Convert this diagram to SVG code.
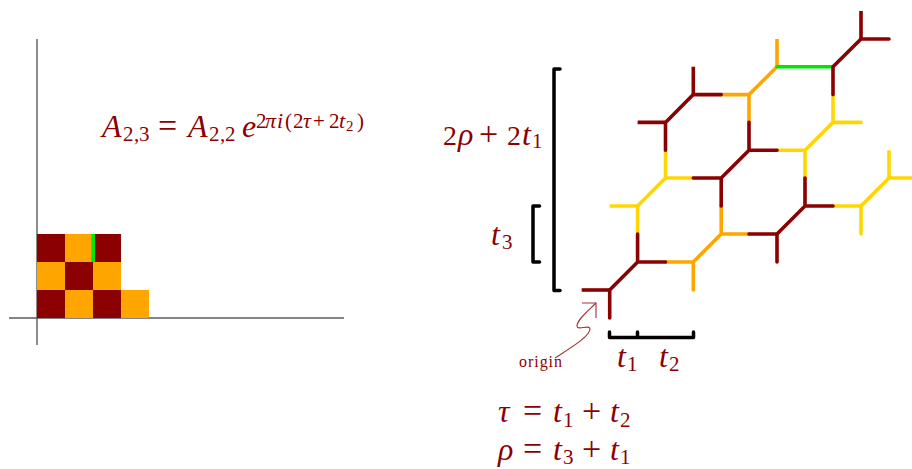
<svg xmlns="http://www.w3.org/2000/svg" width="912" height="469" viewBox="0 0 912 469">
<style>
.m{stroke:#8b0000}.o{stroke:#ffa500}.y{stroke:#ffd700}.g{stroke:#00e600}
#lattice path{fill:none;stroke-width:3.6;stroke-linecap:round;stroke-linejoin:round}
#lattice path.f{stroke-linecap:butt}
.br{fill:none;stroke:#000;stroke-width:3.5;stroke-linecap:round;stroke-linejoin:round}
.ax{stroke:#5c5c5c;stroke-width:1.4;fill:none}
text{font-family:"Liberation Serif","DejaVu Serif",serif;fill:#8b0000}
.b{font-size:32px;font-style:italic}
.n{font-size:34px}
.d{font-size:28px}
.s{font-size:21px}
.si{font-size:22px;font-style:italic}
</style>
<rect width="912" height="469" fill="#fff"/>
<g id="axes">
<path class="ax" d="M37 39V345M9 318H344"/>
</g>
<g id="grid">
<g fill="#8b0000">
<rect x="37" y="234" width="28" height="28"/><rect x="93" y="234" width="28" height="28"/>
<rect x="65" y="262" width="28" height="28"/>
<rect x="37" y="290" width="28" height="28"/><rect x="93" y="290" width="28" height="28"/>
</g>
<g fill="#ffa500">
<rect x="65" y="234" width="28" height="28"/>
<rect x="37" y="262" width="28" height="28"/><rect x="93" y="262" width="28" height="28"/>
<rect x="65" y="290" width="28" height="28"/><rect x="121" y="290" width="28" height="28"/>
</g>
<rect x="91.4" y="234" width="3.6" height="28" fill="#00e600"/>
</g>
<g id="lattice">
<path class="y f" d="M637.6 234V206M637.6 206H609.7M665.5 178V150.3M889 178V150.3"/>
<path class="y" d="M637.6 206L665.5 178M665.5 178H693.3"/>
<path class="y" d="M777 150.3H805M805 178V150.3L833 122.4H861M833 122.4V94.6"/>
<path class="y" d="M833 206H861M861 206V234M861 206L889 178H917"/>
<path class="o" d="M665.5 262H693.3M693.3 262V290M693.3 262L721.2 234H749M721.2 234V206"/>
<path class="o" d="M749 122.4V94.6M749 94.6H721.2M749 94.6L777 66.8"/>
<path class="o f" d="M777 66.8V39"/>
<path class="g" d="M777 66.8H833"/>
<path class="m f" d="M581.7 290H609.7"/>
<path class="m" d="M609.7 290V318M609.7 290L637.6 262M637.6 262V234M637.6 262H665.5"/>
<path class="m" d="M749 234H777M777 234V262M777 234L805 206M805 206V178M805 206H833"/>
<path class="m" d="M721.2 206V178M721.2 178H693.3M721.2 178L749 150.3M749 150.3H777M749 150.3V122.4"/>
<path class="m" d="M721.2 94.6H693.3L665.5 122.4V150.3"/>
<path class="m f" d="M693.3 94.6V66.8M665.5 122.4H637.6M861 39V11"/>
<path class="m" d="M833 94.6V66.8L861 39H889"/>
</g>
<g id="brackets">
<path class="br" d="M560 69H554V290.5H560"/>
<path class="br" d="M539.5 206H533V262H539.5"/>
<path class="br" d="M609.5 332V337.5H693.5V332M637.5 332V337.5"/>
</g>
<g id="origin-arrow" fill="none" stroke="#8b0000" stroke-width="1.1" opacity="0.8">
<path d="M555 358C572 347 590 336 590 329C590 324 577 331 577 326C577 320 587 312 596 303"/>
<path d="M582 303H596V318"/>
</g>
<g id="labels">
<text class="b" x="102" y="137">A</text>
<text class="s" x="123 134 139" y="141">2,3</text>
<text class="n" x="158" y="137">=</text>
<text class="b" x="188" y="137">A</text>
<text class="s" x="209 220 225" y="141">2,2</text>
<text class="b" x="242" y="137">e</text>
<text class="s" x="256" y="128">2</text>
<text class="si" x="265 277" y="128">πi</text>
<text class="s" x="285 293" y="128">(2</text>
<text class="si" x="303" y="128">τ</text>
<text class="s" x="313 329" y="128">+2</text>
<text class="si" x="339" y="128">t</text>
<text font-size="15" x="346" y="131">2</text>
<text class="s" x="357" y="128">)</text>

<text class="d" x="443" y="145">2</text>
<text class="b" x="458" y="145">ρ</text>
<text class="n" x="479" y="145">+</text>
<text class="d" x="507" y="145">2</text>
<text class="b" x="522" y="145">t</text>
<text class="s" x="532" y="148">1</text>

<text class="b" x="491" y="245">t</text>
<text class="s" x="502" y="249">3</text>

<text font-size="16" x="519" y="367" textLength="43">origin</text>
<text class="b" x="617" y="367">t</text>
<text class="s" x="627" y="371">1</text>
<text class="b" x="659" y="367">t</text>
<text class="s" x="669" y="371">2</text>

<text class="b" x="498" y="422">τ</text>
<text class="n" x="523" y="422">=</text>
<text class="b" x="553" y="422">t</text>
<text class="s" x="563" y="427">1</text>
<text class="n" x="582" y="422">+</text>
<text class="b" x="610" y="422">t</text>
<text class="s" x="620" y="427">2</text>

<text class="b" x="498" y="460">ρ</text>
<text class="n" x="523" y="460">=</text>
<text class="b" x="553" y="460">t</text>
<text class="s" x="563" y="464.4">3</text>
<text class="n" x="582" y="460">+</text>
<text class="b" x="610" y="460">t</text>
<text class="s" x="620" y="464.4">1</text>
</g>
</svg>
